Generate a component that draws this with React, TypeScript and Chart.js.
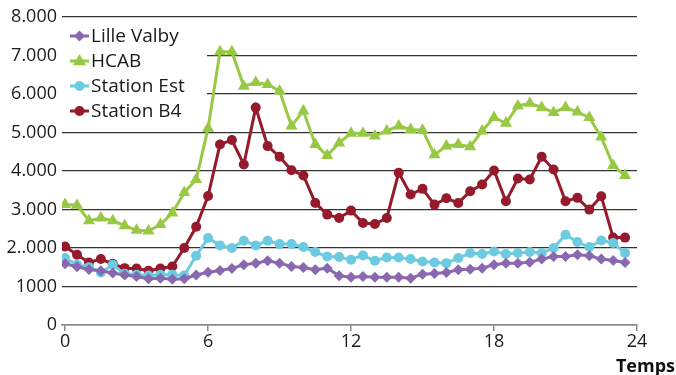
import React, { useEffect, useRef } from "react";
import { Chart, registerables } from "chart.js";

Chart.register(...registerables);

const hours = [
  0, 0.5, 1, 1.5, 2, 2.5, 3, 3.5, 4, 4.5, 5, 5.5, 6, 6.5, 7, 7.5, 8, 8.5, 9, 9.5, 10, 10.5, 11, 11.5,
  12, 12.5, 13, 13.5, 14, 14.5, 15, 15.5, 16, 16.5, 17, 17.5, 18, 18.5, 19, 19.5, 20, 20.5, 21, 21.5,
  22, 22.5, 23, 23.5,
];

const lilleValby = [
  1590, 1510, 1440, 1410, 1350, 1300, 1260, 1200, 1215, 1190, 1200, 1300, 1370, 1416, 1470, 1564,
  1607, 1668, 1607, 1520, 1494, 1433, 1477, 1277, 1242, 1260, 1242, 1242, 1242, 1216, 1320, 1340,
  1364, 1433, 1451, 1477, 1564, 1607, 1607, 1633, 1712, 1781, 1781, 1824, 1798, 1712, 1676, 1624,
];

const hcab = [
  3130, 3110, 2710, 2780, 2710, 2580, 2460, 2440, 2610, 2910, 3440, 3780, 5110, 7100, 7100, 6200,
  6300, 6250, 6080, 5170, 5560, 4690, 4400, 4730, 4980, 4980, 4910, 5040, 5170, 5080, 5060, 4420,
  4650, 4690, 4630, 5040, 5390, 5240, 5690, 5760, 5650, 5520, 5650, 5530, 5390, 4880, 4140, 3880,
];

const stationEst = [
  1738, 1564, 1503, 1364, 1564, 1329, 1303, 1286, 1303, 1303, 1286, 1798, 2259, 2068, 1999, 2189,
  2068, 2189, 2102, 2102, 2025, 1894, 1781, 1764, 1694, 1807, 1668, 1755, 1755, 1712, 1651, 1624,
  1607, 1738, 1868, 1842, 1911, 1842, 1868, 1894, 1868, 1999, 2345, 2155, 2025, 2197, 2129, 1868,
];

const stationB4 = [
  2040, 1824, 1624, 1712, 1590, 1477, 1467, 1407, 1467, 1520, 1998, 2550, 3350, 4690, 4803, 4170,
  5647, 4647, 4370, 4021, 3883, 3171, 2867, 2780, 2971, 2650, 2624, 2780, 3953, 3388, 3536, 3127,
  3290, 3171, 3474, 3648, 4013, 3213, 3805, 3779, 4370, 4039, 3213, 3302, 2997, 3344, 2270, 2270,
];

const seriesNames = ["Lille Valby", "HCAB", "Station Est", "Station B4"];
const xTickValues = [0, 6, 12, 18, 24];
const yTickValues = [0, 1000, 2000, 3000, 4000, 5000, 6000, 7000, 8000];
const yTickLabels = ["0", "1000", "2..000", "3.000", "4.000", "5.000", "6.000", "7.000", "8.000"];
const xTitle = "Temps";

const colors = ["#8a68b0", "#98c944", "#6ccbe0", "#941a2c"];
const pointStyles = ["rectRot", "triangle", "circle", "circle"];
const pointRadii = [5.5, 7, 5, 5];

const FONT = '"Open Sans", "DejaVu Sans", sans-serif';

function drawMarker(ctx: CanvasRenderingContext2D, style: string, x: number, y: number, r: number, color: string) {
  ctx.save();
  ctx.fillStyle = color;
  ctx.beginPath();
  if (style === "circle") {
    ctx.arc(x, y, r, 0, Math.PI * 2);
  } else if (style === "triangle") {
    ctx.moveTo(x, y - r);
    ctx.lineTo(x + r * 0.95, y + r * 0.6);
    ctx.lineTo(x - r * 0.95, y + r * 0.6);
    ctx.closePath();
  } else {
    ctx.moveTo(x, y - r);
    ctx.lineTo(x + r, y);
    ctx.lineTo(x, y + r);
    ctx.lineTo(x - r, y);
    ctx.closePath();
  }
  ctx.fill();
  ctx.restore();
}

const legendPlugin = {
  id: "customLegend",
  beforeDatasetsDraw(chart: any) {
    const ctx: CanvasRenderingContext2D = chart.ctx;
    const area = chart.chartArea;
    ctx.save();
    ctx.fillStyle = "#ffffff";
    ctx.fillRect(area.left, area.top + 2, 145, 104);
    const x0 = area.left + 8;
    const y0 = area.top + 19;
    seriesNames.forEach((name, i) => {
      const y = y0 + i * 25;
      ctx.strokeStyle = colors[i];
      ctx.lineWidth = 3;
      ctx.beginPath();
      ctx.moveTo(x0, y);
      ctx.lineTo(x0 + 19, y);
      ctx.stroke();
      drawMarker(ctx, pointStyles[i], x0 + 9.5, y, pointRadii[i], colors[i]);
      ctx.fillStyle = "#1a1a1a";
      ctx.font = `19px ${FONT}`;
      ctx.textBaseline = "middle";
      ctx.textAlign = "left";
      ctx.fillText(name, x0 + 21, y + 1);
    });
    ctx.restore();
  },
  afterDraw(chart: any) {
    const ctx: CanvasRenderingContext2D = chart.ctx;
    ctx.save();
    ctx.fillStyle = "#111111";
    ctx.font = `bold 18px ${FONT}`;
    ctx.textAlign = "right";
    ctx.textBaseline = "alphabetic";
    ctx.fillText(xTitle, chart.width - 1, 372);
    ctx.restore();
  },
};

export default function App() {
  const canvasRef = useRef<HTMLCanvasElement | null>(null);

  useEffect(() => {
    if (!canvasRef.current) return;
    const all = [lilleValby, hcab, stationEst, stationB4];
    const chart = new Chart(canvasRef.current, {
      type: "line",
      data: {
        datasets: all.map((vals, i) => ({
          label: seriesNames[i],
          data: hours.map((h, j) => ({ x: h, y: vals[j] })),
          borderColor: colors[i],
          backgroundColor: colors[i],
          borderWidth: 3,
          pointStyle: pointStyles[i] as any,
          pointRadius: pointRadii[i],
          pointBorderWidth: 0,
          pointBackgroundColor: colors[i],
          tension: 0,
          fill: false,
        })),
      },
      options: {
        responsive: false,
        animation: false,
        layout: { padding: { top: 17, right: 39, left: 0, bottom: 0 } },
        plugins: { legend: { display: false }, tooltip: { enabled: false } },
        scales: {
          x: {
            type: "linear",
            min: -0.13,
            max: 24,
            afterBuildTicks: (scale: any) => {
              scale.ticks = xTickValues.map((v) => ({ value: v }));
            },
            afterFit: (scale: any) => {
              scale.height = 50;
            },
            grid: { drawOnChartArea: false, drawTicks: true, tickLength: 6, color: "#8a8a8a", lineWidth: 1.5 },
            border: { display: true, color: "#8a8a8a", width: 1.5 },
            ticks: {
              font: { family: FONT, size: 18 },
              color: "#1a1a1a",
              padding: 0,
              maxRotation: 0,
              callback: (v: any) => String(v),
            },
          },
          y: {
            type: "linear",
            min: 0,
            max: 8000,
            afterBuildTicks: (scale: any) => {
              scale.ticks = yTickValues.map((v) => ({ value: v }));
            },
            afterFit: (scale: any) => {
              scale.width = 62;
            },
            grid: { drawTicks: false, color: "#333333", lineWidth: 1.2 },
            border: { display: false },
            ticks: {
              font: { family: FONT, size: 18 },
              color: "#1a1a1a",
              padding: 5,
              callback: (v: any) => {
                const idx = yTickValues.indexOf(Number(v));
                return idx >= 0 ? yTickLabels[idx] : "";
              },
            },
          },
        },
      },
      plugins: [legendPlugin],
    });
    return () => chart.destroy();
  }, []);

  return (
    <div style={{ position: "absolute", left: 0, top: 0, width: 676, height: 375, background: "#fff" }}>
      <canvas ref={canvasRef} width={676} height={375} />
    </div>
  );
}
